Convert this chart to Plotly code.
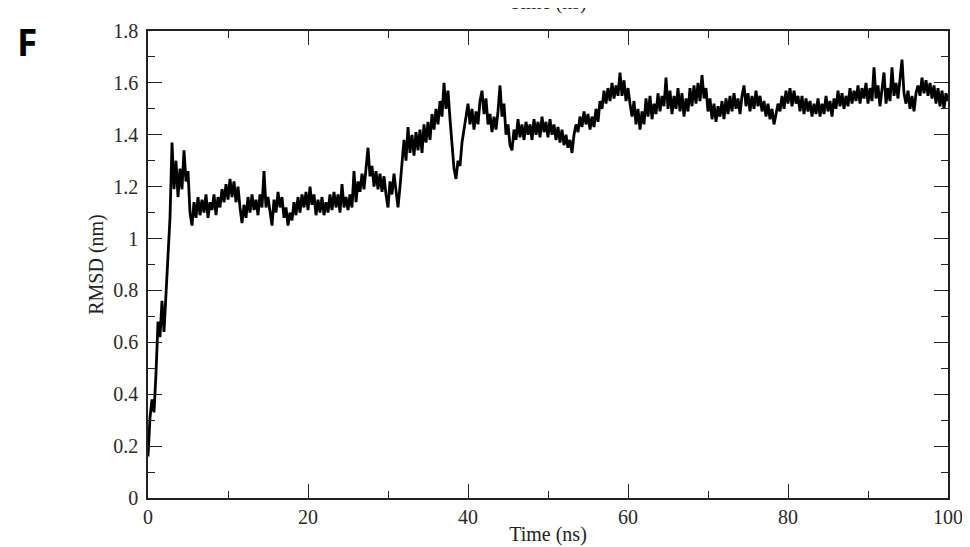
import plotly.graph_objects as go

# Time axis: 0 .. 100 ns in 0.25 ns steps (401 samples)
time_step_ns = 0.25

# RMSD (nm) values, 20 values per 5 ns
rmsd_nm = [
    # 0 - 5 ns
    0.16, 0.31, 0.38, 0.33, 0.48, 0.68, 0.62, 0.76, 0.64, 0.79, 0.90, 1.08, 1.37, 1.19, 1.30, 1.16, 1.27, 1.19, 1.34, 1.22,
    # 5 - 10 ns
    1.26, 1.10, 1.05, 1.14, 1.08, 1.16, 1.09, 1.15, 1.10, 1.17, 1.08, 1.14, 1.11, 1.17, 1.09, 1.16, 1.12, 1.19, 1.14, 1.21,
    # 10 - 15 ns
    1.15, 1.23, 1.16, 1.22, 1.14, 1.20, 1.12, 1.06, 1.13, 1.08, 1.16, 1.10, 1.17, 1.11, 1.15, 1.09, 1.17, 1.12, 1.26, 1.12,
    # 15 - 20 ns
    1.16, 1.10, 1.05, 1.15, 1.10, 1.18, 1.12, 1.16, 1.08, 1.12, 1.05, 1.10, 1.07, 1.14, 1.09, 1.16, 1.10, 1.17, 1.12, 1.18,
    # 20 - 25 ns
    1.11, 1.20, 1.13, 1.17, 1.09, 1.15, 1.10, 1.16, 1.09, 1.14, 1.10, 1.17, 1.11, 1.18, 1.12, 1.17, 1.10, 1.21, 1.12, 1.16,
    # 25 - 30 ns
    1.11, 1.17, 1.12, 1.26, 1.14, 1.22, 1.18, 1.25, 1.19, 1.27, 1.35, 1.24, 1.28, 1.20, 1.26, 1.19, 1.25, 1.18, 1.24, 1.17,
    # 30 - 35 ns
    1.12, 1.22, 1.17, 1.25, 1.18, 1.12, 1.20, 1.30, 1.38, 1.30, 1.43, 1.33, 1.40, 1.32, 1.41, 1.34, 1.42, 1.33, 1.44, 1.37,
    # 35 - 40 ns
    1.45, 1.38, 1.48, 1.42, 1.50, 1.44, 1.53, 1.47, 1.60, 1.50, 1.57, 1.46, 1.36, 1.27, 1.23, 1.30, 1.28, 1.37, 1.42, 1.48,
    # 40 - 45 ns
    1.52, 1.44, 1.50, 1.42, 1.49, 1.44, 1.53, 1.57, 1.48, 1.54, 1.44, 1.48, 1.41, 1.47, 1.42, 1.49, 1.59, 1.47, 1.52, 1.40,
    # 45 - 50 ns
    1.44, 1.36, 1.34, 1.42, 1.38, 1.46, 1.39, 1.44, 1.38, 1.45, 1.40, 1.44, 1.38, 1.46, 1.40, 1.45, 1.39, 1.47, 1.41, 1.45,
    # 50 - 55 ns
    1.39, 1.46, 1.40, 1.44, 1.38, 1.43, 1.37, 1.42, 1.36, 1.40, 1.35, 1.38, 1.33, 1.40, 1.44, 1.41, 1.47, 1.43, 1.49, 1.44,
    # 55 - 60 ns
    1.48, 1.42, 1.47, 1.43, 1.50, 1.45, 1.53, 1.50, 1.57, 1.52, 1.58, 1.53, 1.60, 1.54, 1.59, 1.55, 1.64, 1.55, 1.61, 1.53,
    # 60 - 65 ns
    1.58, 1.52, 1.47, 1.53, 1.44, 1.50, 1.42, 1.49, 1.44, 1.54, 1.47, 1.55, 1.46, 1.52, 1.48, 1.56, 1.49, 1.55, 1.51, 1.62,
    # 65 - 70 ns
    1.50, 1.57, 1.48, 1.55, 1.50, 1.58, 1.49, 1.56, 1.47, 1.54, 1.49, 1.58, 1.51, 1.59, 1.52, 1.60, 1.53, 1.63, 1.54, 1.58,
    # 70 - 75 ns
    1.49, 1.54, 1.46, 1.52, 1.45, 1.51, 1.47, 1.53, 1.46, 1.54, 1.48, 1.55, 1.49, 1.56, 1.50, 1.54, 1.48, 1.55, 1.59, 1.51,
    # 75 - 80 ns
    1.56, 1.49, 1.55, 1.50, 1.57, 1.51, 1.55, 1.49, 1.53, 1.47, 1.52, 1.46, 1.50, 1.44, 1.48, 1.52, 1.49, 1.55, 1.50, 1.57,
    # 80 - 85 ns
    1.52, 1.58, 1.51, 1.57, 1.52, 1.55, 1.49, 1.55, 1.48, 1.54, 1.49, 1.53, 1.47, 1.52, 1.48, 1.54, 1.47, 1.52, 1.48, 1.55,
    # 85 - 90 ns
    1.49, 1.53, 1.47, 1.54, 1.50, 1.57, 1.51, 1.56, 1.50, 1.55, 1.51, 1.58, 1.52, 1.57, 1.53, 1.59, 1.52, 1.58, 1.54, 1.60,
    # 90 - 95 ns
    1.52, 1.58, 1.53, 1.66, 1.54, 1.59, 1.51, 1.57, 1.64, 1.52, 1.58, 1.53, 1.66, 1.55, 1.60, 1.54, 1.62, 1.69, 1.56, 1.52,
    # 95 - 100 ns
    1.57, 1.50, 1.55, 1.49, 1.56, 1.59, 1.55, 1.62, 1.56, 1.61, 1.55, 1.60, 1.54, 1.59, 1.52, 1.58, 1.51, 1.57, 1.50, 1.56,
    1.53,
]
time_ns = [i * time_step_ns for i in range(len(rmsd_nm))]

x_ticks = [0, 20, 40, 60, 80, 100]
y_ticks = [0, 0.2, 0.4, 0.6, 0.8, 1.0, 1.2, 1.4, 1.6, 1.8]
y_tick_text = ["0", "0.2", "0.4", "0.6", "0.8", "1", "1.2", "1.4", "1.6", "1.8"]

serif = "Liberation Serif, Times New Roman, serif"
tick_color = "#2a2a2a"

fig = go.Figure()
fig.add_trace(go.Scatter(
    x=time_ns, y=rmsd_nm, mode="lines",
    line=dict(color="black", width=2.8),
    showlegend=False,
))

axis_common = dict(
    showline=True, linecolor="#222222", linewidth=1.5, mirror="ticks",
    ticks="inside", ticklen=14, tickwidth=1.3, tickcolor="#222222",
    showgrid=False, zeroline=False,
    tickfont=dict(family=serif, size=20, color=tick_color),
)

fig.update_xaxes(
    range=[0, 100], tickvals=x_ticks,
    minor=dict(ticks="inside", ticklen=7, tickwidth=1.2, tickcolor="#222222", dtick=10, tick0=0),
    title=dict(text="Time (ns)", font=dict(family=serif, size=20, color="#222222"), standoff=0),
    **axis_common,
)
fig.update_yaxes(
    range=[0, 1.8], tickvals=y_ticks, ticktext=y_tick_text,
    minor=dict(ticks="inside", ticklen=7, tickwidth=1.2, tickcolor="#222222", dtick=0.1, tick0=0),
    title=dict(text="RMSD (nm)", font=dict(family=serif, size=20, color="#222222"), standoff=4),
    ticklabelstandoff=4,
    **axis_common,
)

fig.add_annotation(
    text="F", xref="paper", yref="paper", x=-0.151, y=1.036, xanchor="center", yanchor="top",
    showarrow=False, font=dict(family="Noto Sans, Liberation Sans, sans-serif", size=37, color="black", weight="bold"),
)
# Cut-off axis title of the panel above (only its lower edge is visible)
fig.add_annotation(
    text="Time (ns)", xref="paper", yref="paper", x=0.5, y=1.062, xanchor="center", yanchor="middle",
    showarrow=False, font=dict(family=serif, size=20, color="#222222"),
)

# the page body adds an 8 px offset, so margins are shifted to keep the plot box in place
fig.update_layout(
    width=970, height=547,
    margin=dict(l=140, r=30, t=17, b=57),
    paper_bgcolor="white", plot_bgcolor="white",
)

fig.write_html("out.html")
